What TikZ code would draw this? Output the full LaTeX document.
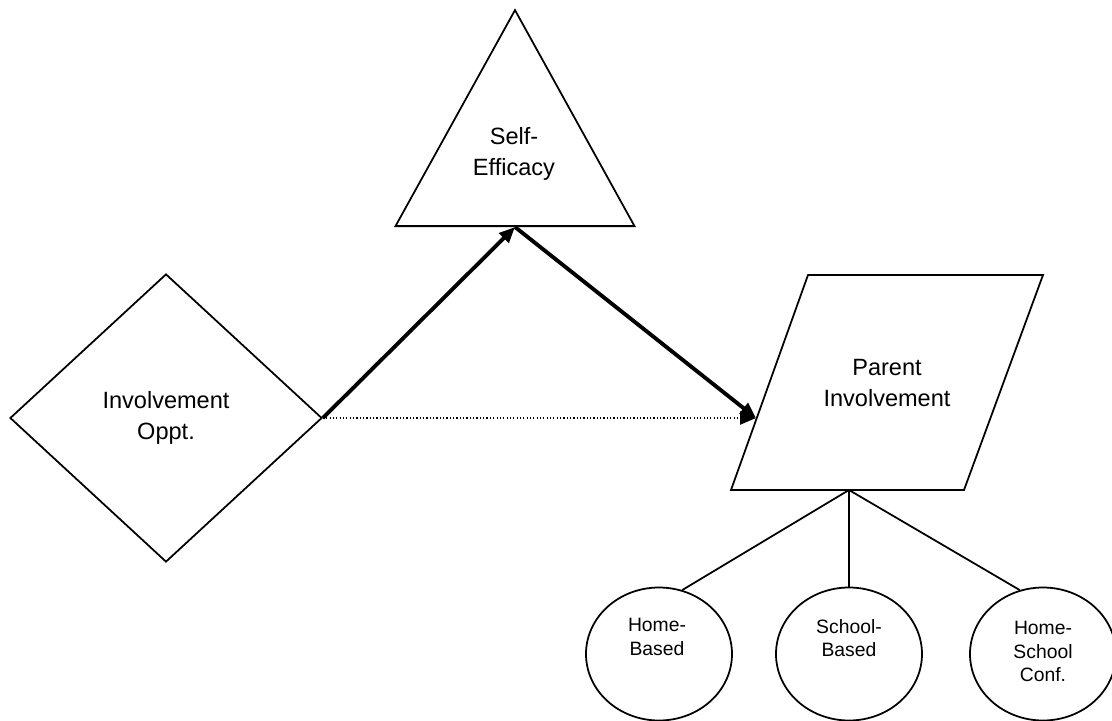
\documentclass[tikz,border=0pt]{standalone}
\usepackage{fontspec}
\setmainfont{Liberation Sans}
\usetikzlibrary{shapes.geometric,arrows.meta}

\tikzset{
  shp/.style = {draw, line width=1pt, inner sep=0pt},
  big/.style = {font=\fontsize{13.4}{17.6}\selectfont, align=center},
  small/.style = {font=\fontsize{11}{13.4}\selectfont, align=center, inner sep=0pt},
  leaf/.style = {shape = ellipse, draw, line width=1pt, inner sep=0pt,
                 minimum width=2.92cm, minimum height=2.66cm},
  thick path/.style = {line width=2.2pt, -{Triangle[length=9pt,width=7.5pt]}},
  direct path/.style = {line width=0.7pt, dash pattern=on 0.7pt off 1.2pt,
                        -{Triangle[length=9pt,width=7.5pt]}},
  branch/.style = {line width=1pt}
}

\begin{document}
\begin{tikzpicture}[x=0.2cm, y=-0.2cm]
\useasboundingbox (0,0) rectangle (111.2,72.1);

% shapes
\node (oppt) at (16.6,41.8) [shp, big, shape = diamond, minimum width=6.24cm, minimum height=5.76cm] {Involvement\\Oppt.};
\node (eff) at (51.5,22.7) [shp, shape = isosceles triangle, shape border rotate=90, isosceles triangle stretches,
      minimum width=4.78cm, minimum height=4.32cm, anchor=lower side] {};
\node (efftext) at (51.4,15.4) [big] {Self-\\Efficacy};

% parallelogram
\coordinate (pi-sw) at (73.1,49.0);
\coordinate (pi-se) at (96.4,49.0);
\coordinate (pi-ne) at (104.3,27.5);
\coordinate (pi-nw) at (80.8,27.5);
\draw [shp] (pi-sw) -- (pi-se) -- (pi-ne) -- (pi-nw) -- cycle;
\node (pi) at (88.7,38.3) [big] {Parent\\Involvement};
\coordinate (pi-in) at (75.6,41.8);
\coordinate (pi-out) at (84.9,49.0);

% kinds of involvement
\node (home) at (65.9,65.4) [leaf] {};
\node (school) at (84.9,65.4) [leaf] {};
\node (conf) at (104.3,65.4) [leaf] {};
\node (hometext) at (65.7,61.8) [small, anchor=north] {Home-\\Based};
\node (schooltext) at (84.9,61.9) [small, anchor=north] {School-\\Based};
\node (conftext) at (104.3,62.1) [small, anchor=north] {Home-\\School\\Conf.};

\path [thick path] (oppt.east) edge (eff.lower side);
\path [thick path] (eff.lower side) edge (pi-in);
\path [direct path] (oppt.east) edge (pi-in);
\path [branch] (pi-out) edge (home.70);
\path [branch] (pi-out) edge (school.north);
\path [branch] (pi-out) edge (conf.110);

\end{tikzpicture}
\end{document}
